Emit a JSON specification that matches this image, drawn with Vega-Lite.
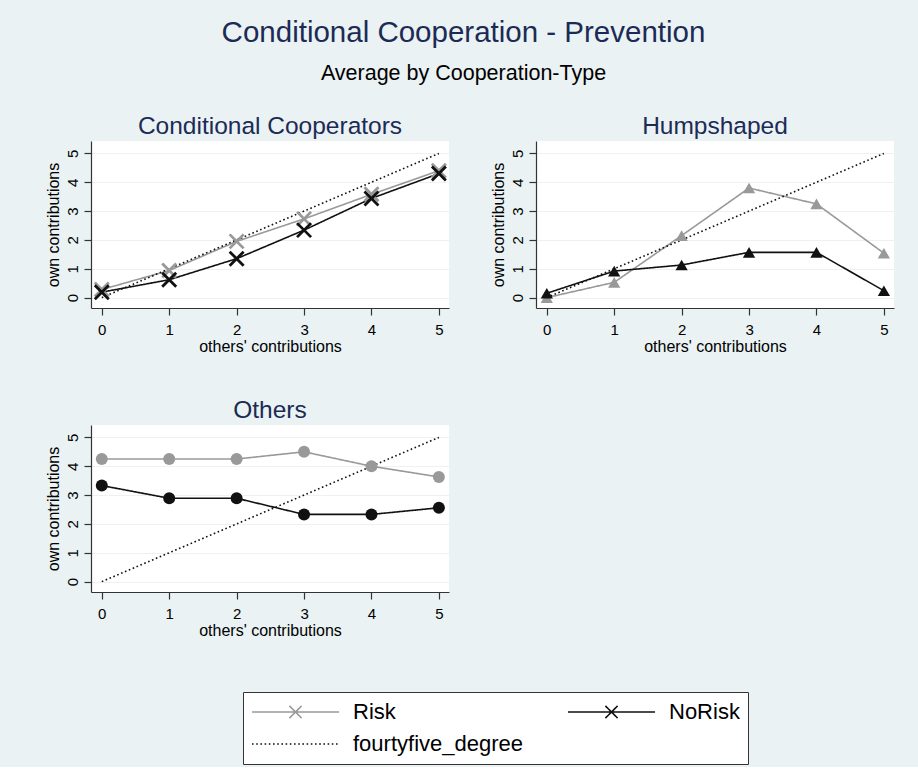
{
  "$schema": "https://vega.github.io/schema/vega-lite/v6.json",
  "background": "#EAF2F3",
  "padding": {"left": 45, "top": 17, "right": 25, "bottom": 2},
  "title": {
    "text": "Conditional Cooperation - Prevention",
    "subtitle": "Average by Cooperation-Type",
    "fontSize": 29.5,
    "subtitleFontSize": 21.5,
    "subtitleColor": "black",
    "subtitleFont": "Liberation Sans",
    "subtitlePadding": 15,
    "anchor": "middle",
    "frame": "bounds",
    "dx": -6,
    "offset": 28
  },
  "data": {
    "values": [
      {"type": "Conditional Cooperators", "series": "Risk", "x": 0, "y": 0.28},
      {"type": "Conditional Cooperators", "series": "Risk", "x": 1, "y": 0.94},
      {"type": "Conditional Cooperators", "series": "Risk", "x": 2, "y": 1.95},
      {"type": "Conditional Cooperators", "series": "Risk", "x": 3, "y": 2.73},
      {"type": "Conditional Cooperators", "series": "Risk", "x": 4, "y": 3.58},
      {"type": "Conditional Cooperators", "series": "Risk", "x": 5, "y": 4.4},
      {"type": "Conditional Cooperators", "series": "NoRisk", "x": 0, "y": 0.19},
      {"type": "Conditional Cooperators", "series": "NoRisk", "x": 1, "y": 0.62},
      {"type": "Conditional Cooperators", "series": "NoRisk", "x": 2, "y": 1.35},
      {"type": "Conditional Cooperators", "series": "NoRisk", "x": 3, "y": 2.34},
      {"type": "Conditional Cooperators", "series": "NoRisk", "x": 4, "y": 3.44},
      {"type": "Conditional Cooperators", "series": "NoRisk", "x": 5, "y": 4.3},
      {"type": "Conditional Cooperators", "series": "fourtyfive_degree", "x": 0, "y": 0},
      {"type": "Conditional Cooperators", "series": "fourtyfive_degree", "x": 5, "y": 5},
      {"type": "Humpshaped", "series": "Risk", "x": 0, "y": 0.0},
      {"type": "Humpshaped", "series": "Risk", "x": 1, "y": 0.53},
      {"type": "Humpshaped", "series": "Risk", "x": 2, "y": 2.15},
      {"type": "Humpshaped", "series": "Risk", "x": 3, "y": 3.8},
      {"type": "Humpshaped", "series": "Risk", "x": 4, "y": 3.25},
      {"type": "Humpshaped", "series": "Risk", "x": 5, "y": 1.54},
      {"type": "Humpshaped", "series": "NoRisk", "x": 0, "y": 0.15},
      {"type": "Humpshaped", "series": "NoRisk", "x": 1, "y": 0.92},
      {"type": "Humpshaped", "series": "NoRisk", "x": 2, "y": 1.13},
      {"type": "Humpshaped", "series": "NoRisk", "x": 3, "y": 1.57},
      {"type": "Humpshaped", "series": "NoRisk", "x": 4, "y": 1.57},
      {"type": "Humpshaped", "series": "NoRisk", "x": 5, "y": 0.24},
      {"type": "Humpshaped", "series": "fourtyfive_degree", "x": 0, "y": 0},
      {"type": "Humpshaped", "series": "fourtyfive_degree", "x": 5, "y": 5},
      {"type": "Others", "series": "Risk", "x": 0, "y": 4.25},
      {"type": "Others", "series": "Risk", "x": 1, "y": 4.25},
      {"type": "Others", "series": "Risk", "x": 2, "y": 4.25},
      {"type": "Others", "series": "Risk", "x": 3, "y": 4.5},
      {"type": "Others", "series": "Risk", "x": 4, "y": 4.0},
      {"type": "Others", "series": "Risk", "x": 5, "y": 3.63},
      {"type": "Others", "series": "NoRisk", "x": 0, "y": 3.33},
      {"type": "Others", "series": "NoRisk", "x": 1, "y": 2.89},
      {"type": "Others", "series": "NoRisk", "x": 2, "y": 2.89},
      {"type": "Others", "series": "NoRisk", "x": 3, "y": 2.33},
      {"type": "Others", "series": "NoRisk", "x": 4, "y": 2.33},
      {"type": "Others", "series": "NoRisk", "x": 5, "y": 2.56},
      {"type": "Others", "series": "fourtyfive_degree", "x": 0, "y": 0},
      {"type": "Others", "series": "fourtyfive_degree", "x": 5, "y": 5}
    ]
  },
  "columns": 2,
  "spacing": {"row": 43, "column": 38},
  "concat": [
    {
      "title": {"text": "Conditional Cooperators"},
      "width": 358,
      "height": 167,
      "transform": [{"filter": "datum.type === 'Conditional Cooperators'"}],
      "encoding": {
        "x": {"field": "x", "type": "quantitative", "scale": {"domain": [-0.16, 5.15], "nice": false, "zero": false}, "axis": {"values": [0, 1, 2, 3, 4, 5], "tickCount": 6, "format": "d", "title": "others' contributions", "grid": false, "labelOverlap": false}},
        "y": {"field": "y", "type": "quantitative", "scale": {"domain": [-0.36, 5.43], "nice": false, "zero": false}, "axis": {"values": [0, 1, 2, 3, 4, 5], "tickCount": 6, "format": "d", "title": "own contributions", "grid": true, "labelOverlap": false}}
      },
      "layer": [
        {
          "mark": {"type": "line", "strokeWidth": 1.6},
          "encoding": {
            "color": {"field": "series", "type": "nominal", "scale": {"domain": ["Risk", "NoRisk", "fourtyfive_degree"], "range": ["#999999", "#111111", "#111111"]}, "legend": {"title": null, "orient": "none", "legendX": 152, "legendY": 551, "columns": 2, "direction": "horizontal", "symbolSize": 7569, "symbolStrokeWidth": 1.6, "symbolOffset": 0, "labelOffset": 13, "labelFontSize": 22, "labelLimit": 400, "clipHeight": 24, "rowPadding": 8, "columnPadding": 44, "padding": 8, "fillColor": "white", "strokeColor": "#333333", "encode": {"symbols": {"update": {"shape": {"signal": "datum.value === 'fourtyfive_degree' ? 'M-1,0H1' : 'M-1,0H1M-0.14,-0.14L0.14,0.14M-0.14,0.14L0.14,-0.14'"}, "fill": {"value": "transparent"}}}}}},
            "strokeDash": {"field": "series", "type": "nominal", "scale": {"domain": ["Risk", "NoRisk", "fourtyfive_degree"], "range": [[1, 0], [1, 0], [1.6, 2.6]]}, "legend": null}
          }
        },
        {
          "transform": [{"filter": "datum.series !== 'fourtyfive_degree'"}],
          "mark": {"type": "point", "shape": "M-1,-1L1,1M-1,1L1,-1", "filled": false, "strokeWidth": 2.8, "size": 196, "opacity": 1},
          "encoding": {
            "color": {"field": "series", "type": "nominal", "legend": null}
          }
        }
      ]
    },
    {
      "title": {"text": "Humpshaped"},
      "width": 358,
      "height": 167,
      "transform": [{"filter": "datum.type === 'Humpshaped'"}],
      "encoding": {
        "x": {"field": "x", "type": "quantitative", "scale": {"domain": [-0.16, 5.15], "nice": false, "zero": false}, "axis": {"values": [0, 1, 2, 3, 4, 5], "tickCount": 6, "format": "d", "title": "others' contributions", "grid": false, "labelOverlap": false}},
        "y": {"field": "y", "type": "quantitative", "scale": {"domain": [-0.36, 5.43], "nice": false, "zero": false}, "axis": {"values": [0, 1, 2, 3, 4, 5], "tickCount": 6, "format": "d", "title": "own contributions", "grid": true, "labelOverlap": false}}
      },
      "layer": [
        {
          "mark": {"type": "line", "strokeWidth": 1.6},
          "encoding": {
            "color": {"field": "series", "type": "nominal", "legend": null},
            "strokeDash": {"field": "series", "type": "nominal", "legend": null}
          }
        },
        {
          "transform": [{"filter": "datum.series !== 'fourtyfive_degree'"}],
          "mark": {"type": "point", "shape": "triangle-up", "filled": true, "strokeWidth": 0, "size": 150, "opacity": 1},
          "encoding": {
            "color": {"field": "series", "type": "nominal", "legend": null}
          }
        }
      ]
    },
    {
      "title": {"text": "Others"},
      "width": 358,
      "height": 167,
      "transform": [{"filter": "datum.type === 'Others'"}],
      "encoding": {
        "x": {"field": "x", "type": "quantitative", "scale": {"domain": [-0.16, 5.15], "nice": false, "zero": false}, "axis": {"values": [0, 1, 2, 3, 4, 5], "tickCount": 6, "format": "d", "title": "others' contributions", "grid": false, "labelOverlap": false}},
        "y": {"field": "y", "type": "quantitative", "scale": {"domain": [-0.36, 5.43], "nice": false, "zero": false}, "axis": {"values": [0, 1, 2, 3, 4, 5], "tickCount": 6, "format": "d", "title": "own contributions", "grid": true, "labelOverlap": false}}
      },
      "layer": [
        {
          "mark": {"type": "line", "strokeWidth": 1.6},
          "encoding": {
            "color": {"field": "series", "type": "nominal", "legend": null},
            "strokeDash": {"field": "series", "type": "nominal", "legend": null}
          }
        },
        {
          "transform": [{"filter": "datum.series !== 'fourtyfive_degree'"}],
          "mark": {"type": "point", "shape": "circle", "filled": true, "strokeWidth": 0, "size": 144, "opacity": 1},
          "encoding": {
            "color": {"field": "series", "type": "nominal", "legend": null}
          }
        }
      ]
    }
  ],
  "resolve": {"scale": {"color": "shared", "strokeDash": "shared"}},
  "config": {
    "font": "Liberation Sans",
    "view": {"fill": "white", "stroke": null},
    "title": {"color": "#1C2B56", "fontWeight": "normal", "fontSize": 24.5, "frame": "group", "anchor": "middle", "offset": 2},
    "axis": {
      "domainColor": "#333333",
      "tickColor": "#333333",
      "domainWidth": 1.2,
      "tickWidth": 1.2,
      "tickSize": 7,
      "labelColor": "black",
      "titleColor": "black",
      "labelFontSize": 15,
      "titleFontSize": 16,
      "titleFontWeight": "normal",
      "gridColor": "#EAF2F3",
      "gridWidth": 1.2,
      "labelFlush": false,
      "labelOverlap": false
    },
    "axisX": {"labelPadding": 7, "titlePadding": 1},
    "axisY": {"labelAngle": -90, "labelAlign": "center", "labelBaseline": "bottom", "labelPadding": 4, "titlePadding": 4},
    "legend": {"labelColor": "black", "labelFont": "Liberation Sans"}
  }
}
